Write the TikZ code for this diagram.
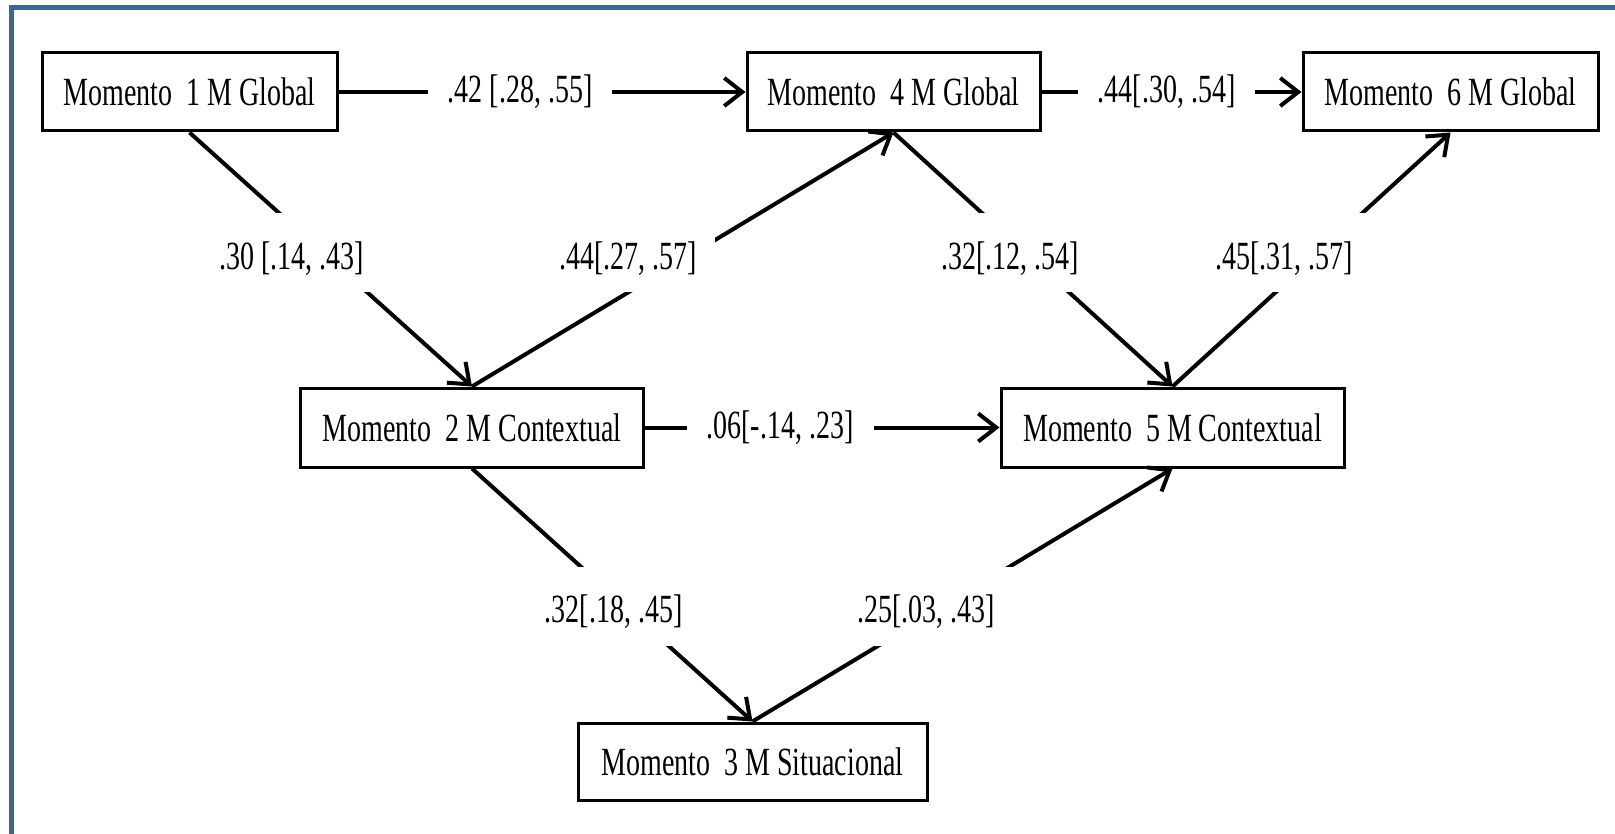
\documentclass[tikz,border=0pt]{standalone}
\usepackage{fontspec}
\setmainfont[FakeStretch=0.7]{Liberation Serif}
\usetikzlibrary{arrows.meta}
\definecolor{frameblue}{RGB}{65,100,145}
\begin{document}
\begin{tikzpicture}[x=0.5pt,y=-0.5pt,
  every node/.style={font=\fontsize{20pt}{24pt}\selectfont},
  box/.style={draw, line width=1.5pt, fill=white, minimum height=39pt, inner sep=0pt},
  conn/.style={line width=2pt},
  arr/.style={conn, -{Straight Barb[length=9pt,width=14pt,line width=2pt]}},
  lblh/.style={fill=white, inner xsep=10pt, inner ysep=2pt},
  lbld/.style={fill=white, inner xsep=9pt, inner ysep=0pt, text height=18pt, text depth=1.5pt, minimum height=39.5pt}
]
\useasboundingbox (0,0) rectangle (1615,834);
\fill[white] (0,0) rectangle (1615,834);
\draw[frameblue, line width=2.5pt] (11.5,850) -- (11.5,7.5) -- (1630,7.5);

% boxes
\node[box, minimum width=147.5pt] (b1) at (189.5,92) {Momento\ \ 1 M Global};
\node[box, minimum width=146.5pt] (b4) at (893.5,92) {Momento\ \ 4 M Global};
\node[box, minimum width=147.5pt] (b6) at (1450.5,92) {Momento\ \ 6 M Global};
\node[box, minimum width=171.5pt, minimum height=39.5pt] (b2) at (472,427.5) {Momento\ \ 2 M Contextual};
\node[box, minimum width=171.5pt, minimum height=39.5pt] (b5) at (1172.5,427.5) {Momento\ \ 5 M Contextual};
\node[box, minimum width=174.5pt, minimum height=38.5pt] (b3) at (752.5,761.5) {Momento\ \ 3 M Situacional};

% connectors
\draw[arr] (b1.east) -- (b4.west);
\draw[arr] (b4.east) -- (b6.west);
\draw[arr] (b1.south) -- (b2.north);
\draw[arr] (b2.north) -- (b4.south);
\draw[arr] (b4.south) -- (b5.north);
\draw[arr] (b5.north) -- (b6.south);
\draw[arr] (b2.east) -- (b5.west);
\draw[arr] (b2.south) -- (b3.north);
\draw[arr] (b3.north) -- (b5.south);

% labels
\node[lblh] (l14) at (520,92) {.42 [.28, .55]};
\node[lblh] (l46) at (1166.5,92) {.44[.30, .54]};
\node[lblh] (l25) at (780,427.5) {.06[-.14, .23]};
\node[lbld] (l12) at (291.5,252.5) {.30 [.14, .43]};
\node[lbld] (l24) at (628,252.5) {.44[.27, .57]};
\node[lbld] (l45) at (1010,252.5) {.32[.12, .54]};
\node[lbld] (l56) at (1284,252.5) {.45[.31, .57]};
\node[lbld] (l23) at (613.5,606) {.32[.18, .45]};
\node[lbld] (l53) at (926,606) {.25[.03, .43]};
\end{tikzpicture}
\end{document}
